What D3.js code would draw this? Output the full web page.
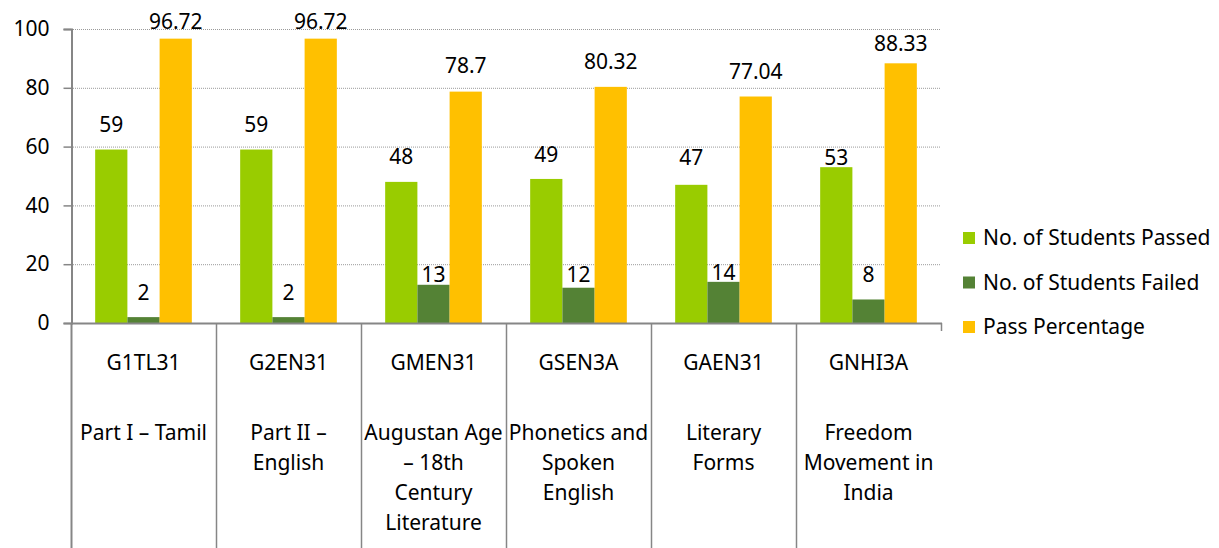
<!DOCTYPE html>
<html>
<head>
<meta charset="utf-8">
<script src="https://cdn.jsdelivr.net/npm/d3@7"></script>
<style>
  html, body { margin: 0; padding: 0; background: #fff; }
  svg { display: block; font-family: "Noto Sans", "Open Sans", sans-serif; }
</style>
</head>
<body>
<svg id="chart" width="1219" height="548"></svg>
<script>
// ---- data ----
const codes = ["G1TL31", "G2EN31", "GMEN31", "GSEN3A", "GAEN31", "GNHI3A"];
const subjects = [
  ["Part I \u2013 Tamil"],
  ["Part II \u2013", "English"],
  ["Augustan Age", "\u2013 18th", "Century", "Literature"],
  ["Phonetics and", "Spoken", "English"],
  ["Literary", "Forms"],
  ["Freedom", "Movement in", "India"]
];
const seriesNames = ["No. of Students Passed", "No. of Students Failed", "Pass Percentage"];
const passed = [59, 59, 48, 49, 47, 53];
const failed = [2, 2, 13, 12, 14, 8];
const passPct = [96.72, 96.72, 78.7, 80.32, 77.04, 88.33];
const yTicks = [0, 20, 40, 60, 80, 100];

// ---- layout / style ----
const colors = ["#99CC00", "#548235", "#FFC000"];
const labelLift = [   // pixel lift of each value label above its bar top (layout only)
  [25, 25, 25, 24, 27, 10],
  [24, 24, 10, 13, 9, 25],
  [17, 17, 26, 25, 25, 20]
];
const values = [passed, failed, passPct];
const FS = 21;

const mLeft = 71, mRight = 941, mTop = 29, mBottom = 323, H = 548;
const svg = d3.select("#chart");

const x = d3.scaleBand().domain(codes).range([mLeft, mRight]).padding(0);
const xs = d3.scaleBand().domain(seriesNames).range([0, x.bandwidth()])
  .paddingInner(0).paddingOuter(0.75);
const y = d3.scaleLinear().domain([0, 100]).range([mBottom, mTop]);

// gridlines
svg.append("g").selectAll("line").data(yTicks.filter(t => t > 0)).join("line")
  .attr("x1", mLeft).attr("x2", mRight)
  .attr("y1", d => y(d) + 0.5).attr("y2", d => y(d) + 0.5)
  .attr("stroke", "#9a9a9a").attr("stroke-width", 1).attr("stroke-dasharray", "1,1");

// y axis
const yAxis = d3.axisLeft(y).tickValues(yTicks).tickSize(8).tickPadding(14);
const gy = svg.append("g").attr("transform", `translate(${mLeft + 0.5},0)`).call(yAxis);
gy.select(".domain").attr("stroke", "#868686").attr("stroke-width", 2);
gy.selectAll(".tick line").attr("stroke", "#868686").attr("stroke-width", 1.5);
gy.selectAll(".tick text").attr("font-size", FS).attr("fill", "#000")
  .attr("font-family", "Noto Sans");

// bars
values.forEach((vals, si) => {
  svg.append("g").selectAll("rect").data(vals).join("rect")
    .attr("x", (d, i) => x(codes[i]) + xs(seriesNames[si]))
    .attr("width", xs.bandwidth())
    .attr("y", d => y(d))
    .attr("height", d => y(0) - y(d))
    .attr("fill", colors[si]);
  svg.append("g").selectAll("text").data(vals).join("text")
    .attr("x", (d, i) => x(codes[i]) + xs(seriesNames[si]) + xs.bandwidth() / 2)
    .attr("y", (d, i) => y(d) - labelLift[si][i])
    .attr("dy", "0.35em")
    .attr("text-anchor", "middle")
    .attr("font-size", FS)
    .attr("fill", "#000")
    .text(d => d);
});

// x axis baseline and separators
const gx = svg.append("g");
gx.append("line").attr("x1", mLeft).attr("x2", mRight + 1)
  .attr("y1", mBottom + 0.5).attr("y2", mBottom + 0.5)
  .attr("stroke", "#868686").attr("stroke-width", 2);
const bounds = codes.map(c => x(c)).concat([mRight]);
gx.selectAll("line.sep").data(bounds).join("line").attr("class", "sep")
  .attr("x1", d => d + 0.5).attr("x2", d => d + 0.5)
  .attr("y1", mBottom).attr("y2", (d, i) => i === bounds.length - 1 ? mBottom + 8 : H)
  .attr("stroke", "#868686").attr("stroke-width", (d, i) => i === 0 ? 2 : 1.5);

// category labels
const cat = svg.append("g").selectAll("g").data(codes).join("g")
  .attr("transform", d => `translate(${x(d) + x.bandwidth() / 2},0)`);
cat.append("text").attr("y", 363).attr("dy", "0.35em").attr("text-anchor", "middle")
  .attr("font-size", FS).attr("fill", "#000").text(d => d);
cat.each(function (d, i) {
  d3.select(this).selectAll("text.sub").data(subjects[i]).join("text").attr("class", "sub")
    .attr("y", (s, j) => 433 + j * 30).attr("dy", "0.35em").attr("text-anchor", "middle")
    .attr("font-size", FS).attr("fill", "#000").text(s => s);
});

// legend
const lg = svg.append("g").selectAll("g").data(seriesNames).join("g")
  .attr("transform", (d, i) => `translate(963,${238 + i * 44.5})`);
lg.append("rect").attr("x", 0).attr("y", -6).attr("width", 12).attr("height", 12)
  .attr("fill", (d, i) => colors[i]);
lg.append("text").attr("x", 20).attr("dy", "0.35em").attr("font-size", FS)
  .attr("fill", "#000").text(d => d);
</script>
</body>
</html>
